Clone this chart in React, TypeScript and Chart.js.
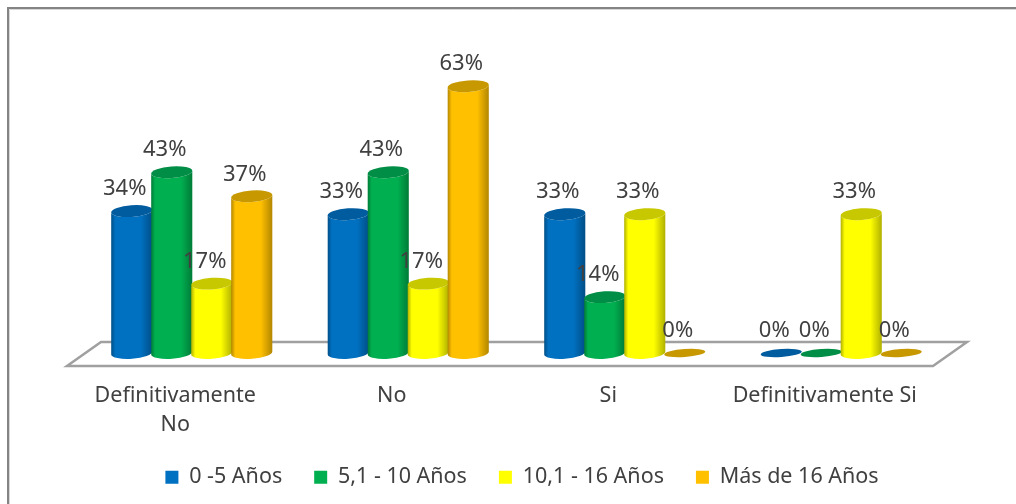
import React, { useEffect, useRef } from "react";
import { Chart, registerables } from "chart.js";

Chart.register(...registerables);

const categories = [["Definitivamente", "No"], "No", "Si", "Definitivamente Si"];
const seriesNames = ["0 -5 Años", "5,1 - 10 Años", "10,1 - 16 Años", "Más de 16 Años"];
const serie1 = [34, 33.3, 33.3, 0];
const serie2 = [42.9, 42.9, 14.3, 0];
const serie3 = [17.4, 17.4, 33.3, 33.3];
const serie4 = [37.4, 62.6, 0, 0];
const colors = ["#0070C0", "#00B050", "#FFFF00", "#FFC000"];
const darkEdge = ["#004E86", "#007B38", "#B0B000", "#B28600"];
const capColors = ["#005C9E", "#008D45", "#C8C800", "#C89800"];

const FONT = "'Noto Sans'";
const DEPTH_X = 34;
const DEPTH_Y = 24;
const TOP_SHIFT = 6.4;
const BASE_SHIFT = 13;

const cylinders = {
  id: "cylinders",
  beforeDraw(chart: any) {
    const { ctx } = chart;
    ctx.save();
    ctx.fillStyle = "#ffffff";
    ctx.fillRect(0, 0, chart.width, chart.height);
    ctx.strokeStyle = "#D8D8D8";
    ctx.lineWidth = 1;
    ctx.beginPath();
    ctx.moveTo(9.5, chart.height);
    ctx.lineTo(9.5, 9.5);
    ctx.lineTo(chart.width, 9.5);
    ctx.stroke();
    ctx.strokeStyle = "#848484";
    ctx.lineWidth = 2;
    ctx.beginPath();
    ctx.moveTo(8, chart.height);
    ctx.lineTo(8, 8);
    ctx.lineTo(chart.width, 8);
    ctx.stroke();
    ctx.restore();
  },
  beforeDatasetsDraw(chart: any) {
    const { ctx, chartArea } = chart;
    const { left, right, bottom } = chartArea;
    ctx.save();
    ctx.strokeStyle = "#A0A0A0";
    ctx.lineWidth = 2.5;
    ctx.beginPath();
    ctx.moveTo(left, bottom);
    ctx.lineTo(right, bottom);
    ctx.lineTo(right + DEPTH_X, bottom - DEPTH_Y);
    ctx.lineTo(left + DEPTH_X, bottom - DEPTH_Y);
    ctx.closePath();
    ctx.stroke();

    const tilt = -0.07;
    const ry = 5.8;
    const n = chart.data.labels.length;
    for (let c = 0; c < n; c++) {
      chart.data.datasets.forEach((ds: any, d: number) => {
        const el = chart.getDatasetMeta(d).data[c];
        const cx = el.x + DEPTH_X / 2 - 0.5;
        const rx = el.width / 2 + 0.6;
        const base = el.base - BASE_SHIFT;
        const zero = ds.data[c] === 0;
        const top = zero ? base : el.y - TOP_SHIFT;
        if (!zero) {
          const g = ctx.createLinearGradient(cx - rx, 0, cx + rx, 0);
          g.addColorStop(0, darkEdge[d]);
          g.addColorStop(0.1, colors[d]);
          g.addColorStop(0.72, colors[d]);
          g.addColorStop(1, darkEdge[d]);
          ctx.fillStyle = g;
          ctx.beginPath();
          ctx.ellipse(cx, base, rx, ry, tilt, 0, Math.PI);
          ctx.ellipse(cx, top, rx, ry, tilt, Math.PI, 0, true);
          ctx.closePath();
          ctx.fill();
        }
        ctx.fillStyle = capColors[d];
        ctx.beginPath();
        ctx.ellipse(cx, top, rx, zero ? 4 : ry, tilt, 0, Math.PI * 2);
        ctx.fill();
      });
    }

    ctx.font = `22px ${FONT}`;
    ctx.fillStyle = "#404040";
    ctx.textAlign = "center";
    ctx.textBaseline = "middle";
    chart.data.datasets.forEach((ds: any, d: number) => {
      chart.getDatasetMeta(d).data.forEach((el: any, i: number) => {
        const zero = ds.data[i] === 0;
        const top = zero ? el.base - BASE_SHIFT : el.y - TOP_SHIFT;
        ctx.fillText(`${Math.round(ds.data[i])}%`, el.x + DEPTH_X / 2 - 7.5, top - 22);
      });
    });
    ctx.restore();
    return false;
  },
};

export default function App() {
  const ref = useRef<HTMLCanvasElement>(null);
  useEffect(() => {
    document.body.style.margin = "0";
    const values = [serie1, serie2, serie3, serie4];
    const chart = new Chart(ref.current!, {
      type: "bar",
      data: {
        labels: categories as any,
        datasets: seriesNames.map((label, i) => ({
          label,
          data: values[i],
          backgroundColor: colors[i],
          borderWidth: 0,
          categoryPercentage: 0.739,
          barPercentage: 1,
        })),
      },
      plugins: [cylinders as any],
      options: {
        animation: false,
        responsive: false,
        layout: { padding: { left: 67, right: 39, top: 69, bottom: 6 } },
        plugins: {
          tooltip: { enabled: false },
          legend: {
            position: "bottom",
            labels: {
              boxWidth: 13,
              boxHeight: 13,
              padding: 32,
              color: "#404040",
              font: { family: FONT, size: 21.5 },
            },
          },
        },
        scales: {
          x: {
            grid: { display: false },
            border: { display: false },
            ticks: {
              color: "#404040",
              maxRotation: 0,
              autoSkip: false,
              padding: 7,
              font: { family: FONT, size: 21.5, lineHeight: 1.35 },
            },
            afterFit(scale: any) {
              scale.height = 68.5;
            },
          },
          y: {
            position: "right",
            min: 0,
            max: 68,
            grid: { display: false },
            border: { display: false },
            ticks: { display: false },
            afterFit(scale: any) {
              scale.width = 44;
            },
          },
        },
      },
    } as any);
    return () => chart.destroy();
  }, []);
  return <canvas ref={ref} width={1016} height={504} style={{ display: "block" }} />;
}
